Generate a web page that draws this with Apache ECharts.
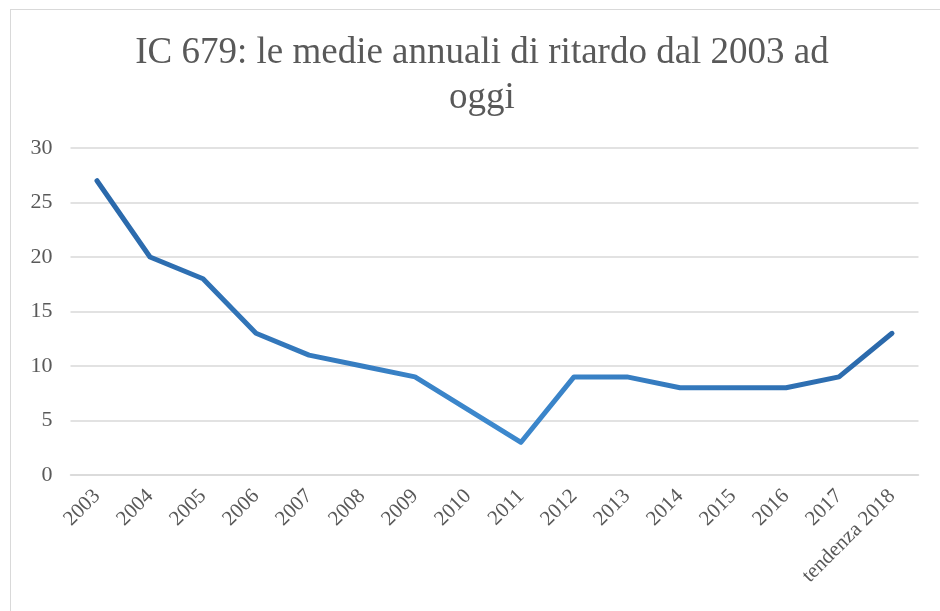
<!DOCTYPE html>
<html>
<head>
<meta charset="utf-8">
<script src="https://cdn.jsdelivr.net/npm/echarts@6/dist/echarts.min.js"></script>
<style>
  html, body { margin: 0; padding: 0; background: #fff; }
  #wrap { position: relative; width: 940px; height: 611px; overflow: hidden; }
  #frame { position: absolute; left: 10px; top: 9px; width: 1000px; height: 700px; border: 1px solid #d9d9d9; }
  #chart { position: absolute; left: 0; top: 0; width: 940px; height: 611px; }
</style>
</head>
<body>
<div id="wrap">
  <div id="frame"></div>
  <div id="chart"></div>
</div>
<script>
// Categories and values
const years = [
  "2003", "2004", "2005", "2006", "2007", "2008", "2009", "2010",
  "2011", "2012", "2013", "2014", "2015", "2016", "2017", "tendenza 2018",
];
const delays = [27, 20, 18, 13, 11, 10, 9, 6, 3, 9, 9, 8, 8, 8, 9, 13];

const chart = echarts.init(document.getElementById("chart"), null, { renderer: "canvas" });

const serif = "'Liberation Serif', 'DejaVu Serif', serif";

chart.setOption({
  animation: false,
  title: {
    text: "IC 679: le medie annuali di ritardo dal 2003 ad\noggi",
    left: 477,
    top: 26,
    textAlign: "center",
    textStyle: {
      fontFamily: serif,
      fontWeight: "normal",
      fontSize: 37,
      lineHeight: 45,
      color: "#595959",
    },
  },
  grid: {
    left: 70.5,
    right: 21.5,
    top: 148,
    bottom: 136,
  },
  xAxis: {
    type: "category",
    data: years,
    boundaryGap: true,
    axisLine: { show: true, lineStyle: { color: "#d9d9d9", width: 1.5 } },
    axisTick: { show: false },
    axisLabel: {
      rotate: 45,
      margin: 18,
      interval: 0,
      fontFamily: serif,
      fontSize: 21,
      color: "#595959",
    },
  },
  yAxis: {
    type: "value",
    min: 0,
    max: 30,
    interval: 5,
    axisLine: { show: false },
    axisTick: { show: false },
    axisLabel: {
      margin: 18,
      fontFamily: serif,
      fontSize: 22,
      color: "#595959",
    },
    splitLine: { lineStyle: { color: "#d9d9d9", width: 1.5 } },
  },
  series: [
    {
      type: "line",
      data: delays,
      symbol: "none",
      lineStyle: {
        width: 5,
        cap: "round",
        join: "round",
        color: {
          type: "linear",
          x: 0, y: 0, x2: 1, y2: 0,
          colorStops: [
            { offset: 0, color: "#2a68aa" },
            { offset: 0.5, color: "#3d89ce" },
            { offset: 1, color: "#2a68aa" },
          ],
        },
      },
    },
  ],
});
</script>
</body>
</html>
